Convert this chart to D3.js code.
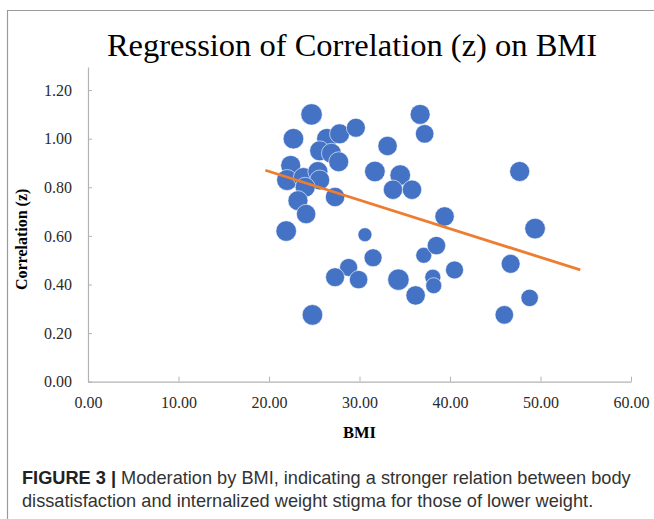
<!DOCTYPE html>
<html>
<head>
<meta charset="utf-8">
<script src="https://cdn.jsdelivr.net/npm/d3@7"></script>
<style>
  body { margin: 0; background: #fff; }
  svg { display: block; }
</style>
</head>
<body>
<div id="chart"></div>
<script>
// data: BMI (x), correlation z (y), bubble weight
const bmi = [24.7, 22.7, 26.4, 27.8, 29.6, 25.6, 26.9, 27.7, 22.4, 22.0,
             23.8, 25.4, 25.6, 24.0, 23.2, 24.1, 21.9, 27.3, 31.7, 33.1,
             34.5, 33.7, 35.8, 30.6, 31.5, 28.8, 27.3, 29.9, 34.3, 36.2,
             37.1, 38.5, 38.1, 38.2, 40.5, 39.4, 36.7, 37.2, 47.7, 49.4,
             46.7, 48.8, 46.0, 24.8];
const corrZ = [1.10, 1.00, 1.00, 1.02, 1.045, 0.95, 0.94, 0.905, 0.89, 0.83,
               0.84, 0.865, 0.83, 0.80, 0.745, 0.69, 0.62, 0.76, 0.865, 0.97,
               0.85, 0.79, 0.79, 0.605, 0.51, 0.47, 0.43, 0.42, 0.42, 0.355,
               0.52, 0.56, 0.43, 0.395, 0.46, 0.68, 1.10, 1.02, 0.865, 0.63,
               0.485, 0.345, 0.275, 0.275];
const weight = [114, 106, 106, 100, 90, 100, 100, 100, 100, 110,
                100, 100, 100, 100, 100, 94, 106, 94, 106, 94,
                106, 94, 94, 49, 81, 81, 90, 85, 114, 94,
                64, 85, 64, 64, 81, 94, 100, 86, 100, 106,
                90, 76, 86, 106];
// fitted regression line end points
const fitX = [19.6, 54.4];
const fitY = [0.87, 0.46];

const xTicks = [0, 10, 20, 30, 40, 50, 60];
const yTicks = [0, 0.2, 0.4, 0.6, 0.8, 1.0, 1.2];

const W = 654, H = 519;
const plotL = 88, plotR = 631, plotT = 67, plotB = 381.7;

const svg = d3.select('#chart').append('svg')
  .attr('width', W).attr('height', H);

// outer frame
svg.append('path')
  .attr('d', `M7.5,${H} V10.5 H${W}`)
  .attr('fill', 'none')
  .attr('stroke', '#9a9a9a')
  .attr('stroke-width', 1.2);

const x = d3.scaleLinear().domain([0, 60]).range([plotL, plotR]);
const y = d3.scaleLinear().domain([0, 1.295]).range([plotB, plotT]);
const r = d3.scaleSqrt().domain([0, 100]).range([0, 10]);

const serif = "'Liberation Serif', 'Times New Roman', serif";

// title
svg.append('text')
  .attr('x', 352).attr('y', 56)
  .attr('text-anchor', 'middle')
  .style('font-family', serif)
  .style('font-size', '32.5px')
  .attr('fill', '#000')
  .text('Regression of Correlation (z) on BMI');

// axes
const xAxis = svg.append('g')
  .attr('transform', `translate(0,${plotB})`)
  .call(d3.axisBottom(x).tickValues(xTicks).tickSizeInner(-5).tickSizeOuter(0)
    .tickFormat(d3.format('.2f')).tickPadding(15));

const yAxis = svg.append('g')
  .attr('transform', `translate(${plotL},0)`)
  .call(d3.axisLeft(y).tickValues(yTicks).tickSizeInner(-4).tickSizeOuter(0)
    .tickFormat(d3.format('.2f')).tickPadding(16));

[xAxis, yAxis].forEach(g => {
  g.select('.domain').attr('stroke', '#b3b3b3').attr('stroke-width', 1.2);
  g.selectAll('.tick line').attr('stroke', '#b3b3b3');
  g.selectAll('.tick text')
    .style('font-family', serif)
    .style('font-size', '16px')
    .attr('fill', '#2b2b2b');
});

// axis titles
svg.append('text')
  .attr('x', (plotL + plotR) / 2).attr('y', 438)
  .attr('text-anchor', 'middle')
  .style('font-family', serif)
  .style('font-size', '16.5px')
  .style('font-weight', 'bold')
  .text('BMI');

svg.append('text')
  .attr('transform', `translate(27,${(plotT + plotB) / 2 + 15}) rotate(-90)`)
  .attr('text-anchor', 'middle')
  .style('font-family', serif)
  .style('font-size', '16px')
  .style('font-weight', 'bold')
  .text('Correlation (z)');

// bubbles
const pts = bmi.map((b, i) => ({b, z: corrZ[i], w: weight[i]}));
svg.append('g')
  .selectAll('circle')
  .data(pts)
  .join('circle')
  .attr('cx', d => x(d.b))
  .attr('cy', d => y(d.z))
  .attr('r', d => r(d.w))
  .attr('fill', '#4472c4')
  .attr('stroke', '#ffffff')
  .attr('stroke-width', 0.6);

// regression line
svg.append('line')
  .attr('x1', x(fitX[0])).attr('y1', y(fitY[0]))
  .attr('x2', x(fitX[1])).attr('y2', y(fitY[1]))
  .attr('stroke', '#ed7d31')
  .attr('stroke-width', 2.8);

// caption
const sans = "'Liberation Sans', Arial, sans-serif";
const cap1 = svg.append('text')
  .attr('x', 22).attr('y', 484)
  .style('font-family', sans)
  .style('font-size', '18.2px')
  .attr('fill', '#333');
cap1.append('tspan').style('font-weight', 'bold').attr('fill', '#222').text('FIGURE 3 | ');
cap1.append('tspan').text('Moderation by BMI, indicating a stronger relation between body');

svg.append('text')
  .attr('x', 22).attr('y', 507)
  .style('font-family', sans)
  .style('font-size', '18.2px')
  .attr('fill', '#333')
  .text('dissatisfaction and internalized weight stigma for those of lower weight.');
</script>
</body>
</html>
